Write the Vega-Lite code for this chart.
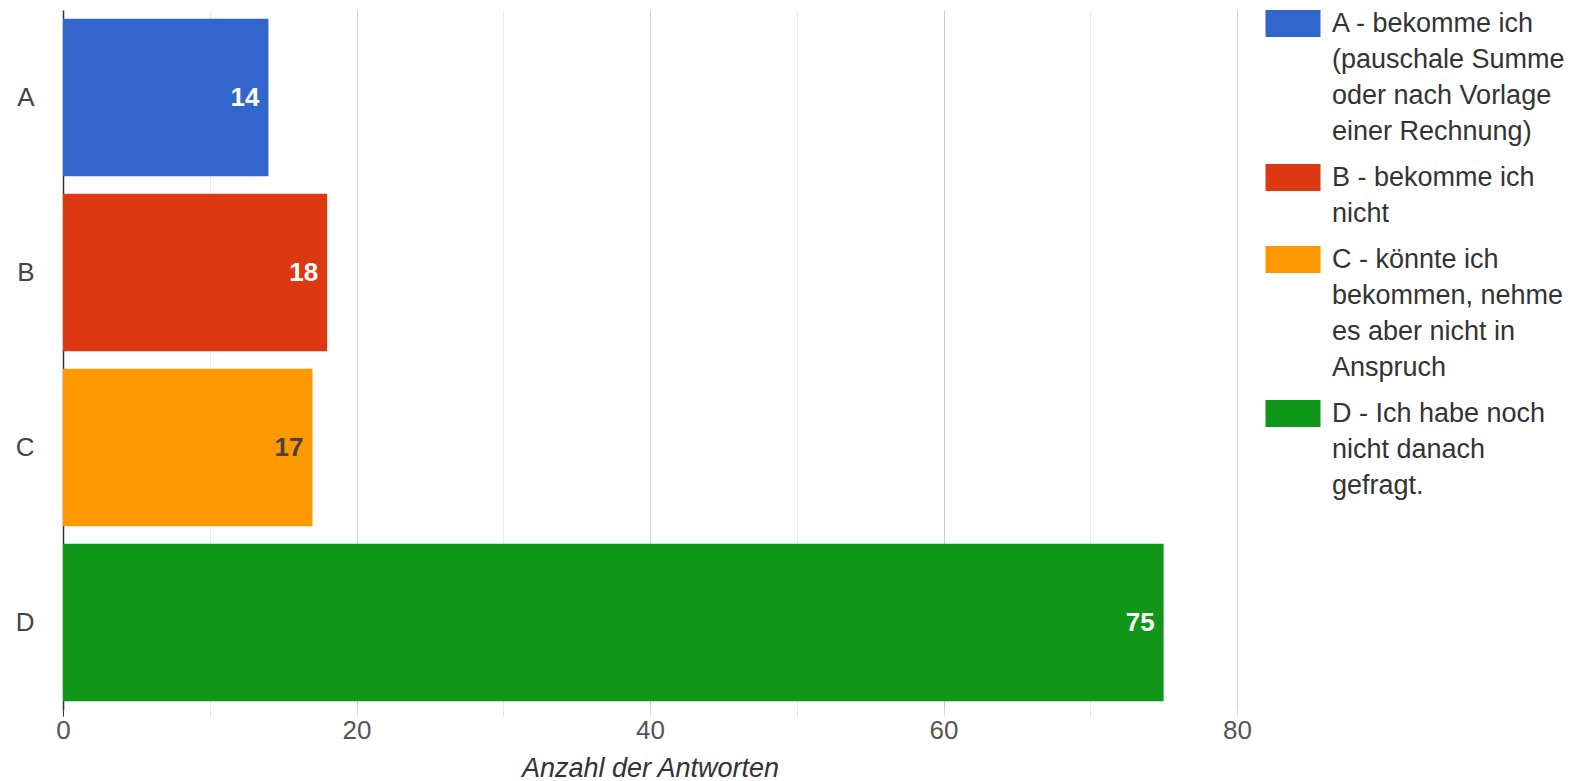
{
  "$schema": "https://vega.github.io/schema/vega-lite/v6.json",
  "width": 1174,
  "height": 700,
  "padding": {"left": 15, "top": 10, "right": 0, "bottom": 0},
  "background": "white",
  "config": {"view": {"stroke": null}, "font": "Liberation Sans", "style": {"guide-label": {"lineHeight": 36}}},
  "data": {
    "values": [
      {"Kategorie": "A", "Antwort": "A - bekomme ich (pauschale Summe oder nach Vorlage einer Rechnung)", "Anzahl": 14},
      {"Kategorie": "B", "Antwort": "B - bekomme ich nicht", "Anzahl": 18},
      {"Kategorie": "C", "Antwort": "C - könnte ich bekommen, nehme es aber nicht in Anspruch", "Anzahl": 17},
      {"Kategorie": "D", "Antwort": "D - Ich habe noch nicht danach gefragt.", "Anzahl": 75}
    ]
  },
  "encoding": {
    "y": {
      "field": "Kategorie",
      "type": "nominal",
      "sort": null,
      "scale": {"paddingInner": 0.1, "paddingOuter": 0.05},
      "axis": {
        "title": null,
        "ticks": false,
        "labelPadding": 29,
        "labelFontSize": 26,
        "labelColor": "#444",
        "domainColor": "#333",
        "domainWidth": 1.5,
        "minExtent": 47,
        "maxExtent": 47
      }
    },
    "x": {
      "field": "Anzahl",
      "type": "quantitative",
      "scale": {"domain": [0, 80], "nice": false},
      "axis": {
        "values": [0, 10, 20, 30, 40, 50, 60, 70, 80],
        "labelExpr": "datum.value % 20 === 0 ? datum.label : ''",
        "labelFlush": false,
        "gridColor": {"condition": {"test": "datum.value % 20 === 0", "value": "#cccccc"}, "value": "#ebebeb"},
        "tickColor": {"condition": {"test": "datum.value === 0", "value": "#333333"}, "value": "#e0e0e0"},
        "domain": false,
        "tickSize": 6,
        "labelPadding": 1,
        "labelFontSize": 26,
        "labelColor": "#555",
        "title": "Anzahl der Antworten",
        "titleFontSize": 27,
        "titleFontStyle": "italic",
        "titleFontWeight": "normal",
        "titleColor": "#333",
        "titlePadding": 12
      }
    }
  },
  "layer": [
    {
      "mark": {"type": "bar"},
      "encoding": {
        "color": {
          "field": "Antwort",
          "type": "nominal",
          "sort": null,
          "scale": {"range": ["#3366cc", "#dc3912", "#ff9900", "#109618"]},
          "legend": {
            "title": null,
            "orient": "right",
            "offset": 34,
            "symbolType": "M-1.25,-1H1.25V0.227H-1.25Z",
            "symbolSize": 1936,
            "symbolStrokeWidth": 0,
            "symbolOpacity": 1,
            "labelFontSize": 27,
            "labelColor": "#333",
            "labelLimit": 400,
            "labelOffset": 17,
            "rowPadding": 19,
            "labelBaseline": "alphabetic",
            "labelExpr": "slice(datum.label,0,1) === 'A' ? ['A - bekomme ich', '(pauschale Summe', 'oder nach Vorlage', 'einer Rechnung)'] : slice(datum.label,0,1) === 'B' ? ['B - bekomme ich', 'nicht'] : slice(datum.label,0,1) === 'C' ? ['C - könnte ich', 'bekommen, nehme', 'es aber nicht in', 'Anspruch'] : ['D - Ich habe noch', 'nicht danach', 'gefragt.']",
            "encoding": {"labels": {"lineHeight": {"value": 36}}}
          }
        }
      }
    },
    {
      "mark": {"type": "text", "align": "right", "baseline": "middle", "dx": -9, "fontSize": 26, "fontWeight": "bold"},
      "encoding": {
        "text": {"field": "Anzahl", "type": "quantitative"},
        "color": {"condition": {"test": "datum.Kategorie === 'C'", "value": "#444"}, "value": "white"}
      }
    }
  ]
}
